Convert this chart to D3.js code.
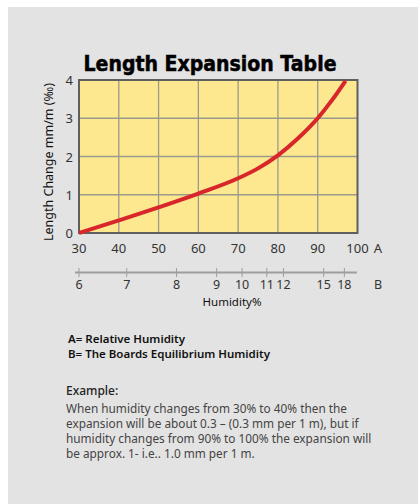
<!DOCTYPE html>
<html><head><meta charset="utf-8">
<script src="https://cdn.jsdelivr.net/npm/d3@7"></script>
<style>body{margin:0;background:#fff}svg{display:block}</style>
</head><body>
<script>
const humidityA = [30,40,50,60,70,75,80,85,90,93.5,97];
const lengthChange = [0,0.33,0.67,1.03,1.43,1.69,2.03,2.47,3.0,3.46,3.98];
const xTicks = [30,40,50,60,70,80,90,100];
const yTicks = [0,1,2,3,4];
const bTickLabels = [6,7,8,9,10,11,12,15,18];
const bTickAt = [30,42,54.5,64.6,71,77.2,81.4,91.5,96.7];

const W=418,H=504;
const svg=d3.select("body").append("svg").attr("width",W).attr("height",H);
svg.append("rect").attr("x",8).attr("y",7).attr("width",W-8).attr("height",H-7).attr("fill","#e3e3e3");

const x=d3.scaleLinear().domain([30,100]).range([79,357.5]);
const y=d3.scaleLinear().domain([0,4]).range([233,80]);
const font="'Noto Sans', sans-serif";

svg.append("text").attr("x",210).attr("y",71).attr("text-anchor","middle")
  .attr("font-family","'DejaVu Sans', sans-serif").attr("font-weight","bold").attr("font-size",22)
  .attr("textLength",253).attr("lengthAdjust","spacingAndGlyphs").attr("fill","#000")
  .attr("stroke","#000").attr("stroke-width",0.55)
  .text("Length Expansion Table");

svg.append("rect").attr("x",x(30)).attr("y",y(4)).attr("width",x(100)-x(30)).attr("height",y(0)-y(4)).attr("fill","#fde88f");
const g=svg.append("g");
g.selectAll("line.v").data(xTicks.slice(1,-1)).join("line")
 .attr("x1",d=>x(d)).attr("x2",d=>x(d)).attr("y1",y(4)).attr("y2",y(0)).attr("stroke","#9b9a8c").attr("stroke-width",1.3);
g.selectAll("line.h").data(yTicks.slice(1,-1)).join("line")
 .attr("y1",d=>y(d)).attr("y2",d=>y(d)).attr("x1",x(30)).attr("x2",x(100)).attr("stroke","#9b9a8c").attr("stroke-width",1.3);
svg.append("rect").attr("x",x(30)).attr("y",y(4)).attr("width",x(100)-x(30)).attr("height",y(0)-y(4)).attr("fill","none").attr("stroke","#5f5f5f").attr("stroke-width",2);

const pts=humidityA.map((a,i)=>[a,lengthChange[i]]);
svg.append("path").datum(pts).attr("d",d3.line().x(d=>x(d[0])).y(d=>y(d[1])).curve(d3.curveMonotoneX))
 .attr("fill","none").attr("stroke","#d8262b").attr("stroke-width",4).attr("stroke-linecap","butt");

// x tick labels
svg.selectAll("text.xt").data(xTicks).join("text").attr("x",d=>x(d)).attr("y",253).attr("text-anchor","middle")
 .attr("font-family",font).attr("font-size",13).attr("fill","#333").text(d=>d);
svg.append("text").attr("x",378).attr("y",253).attr("text-anchor","middle").attr("font-family",font).attr("font-size",13).attr("fill","#333").text("A");
// y tick labels
svg.selectAll("text.yt").data(yTicks).join("text").attr("x",73).attr("y",d=>y(d)+5).attr("text-anchor","end")
 .attr("font-family",font).attr("font-size",13).attr("fill","#333").text(d=>d);
svg.append("text").attr("transform","translate(53,162) rotate(-90)").attr("text-anchor","middle")
 .attr("font-family",font).attr("font-size",12.5).attr("fill","#111").text("Length Change mm/m (‰)");

// B axis
svg.append("line").attr("x1",75).attr("x2",357).attr("y1",272.5).attr("y2",272.5).attr("stroke","#9d9d9d").attr("stroke-width",2);
svg.selectAll("line.bt").data(bTickAt).join("line").attr("x1",d=>x(d)).attr("x2",d=>x(d)).attr("y1",268).attr("y2",277)
 .attr("stroke","#9d9d9d").attr("stroke-width",1);
svg.selectAll("text.bt").data(bTickLabels).join("text").attr("x",(d,i)=>x(bTickAt[i])).attr("y",289).attr("text-anchor","middle")
 .attr("font-family",font).attr("font-size",12.5).attr("fill","#333").text(d=>d);
svg.append("text").attr("x",378).attr("y",289).attr("text-anchor","middle").attr("font-family",font).attr("font-size",12.5).attr("fill","#333").text("B");
svg.append("text").attr("x",232).attr("y",306).attr("text-anchor","middle").attr("font-family",font).attr("font-size",11.5).attr("fill","#111").text("Humidity%");

// legend text
const leg=["A= Relative Humidity","B= The Boards Equilibrium Humidity"];
svg.selectAll("text.lg").data(leg).join("text").attr("x",68).attr("y",(d,i)=>343+i*15)
 .attr("font-family",font).attr("font-weight",600).attr("font-size",11.5).attr("fill","#111").text(d=>d);
svg.append("text").attr("x",66).attr("y",395).attr("font-family",font).attr("font-weight",500).attr("font-size",12).attr("fill","#222").text("Example:");
const para=["When humidity changes from 30% to 40% then the","expansion will be about 0.3 – (0.3 mm per 1 m), but if","humidity changes from 90% to 100% the expansion will","be approx. 1- i.e.. 1.0 mm per 1 m."];
svg.selectAll("text.p").data(para).join("text").attr("x",66).attr("y",(d,i)=>413+i*15)
 .attr("font-family",font).attr("font-size",11.8).attr("fill","#444").text(d=>d);
</script>
</body></html>
